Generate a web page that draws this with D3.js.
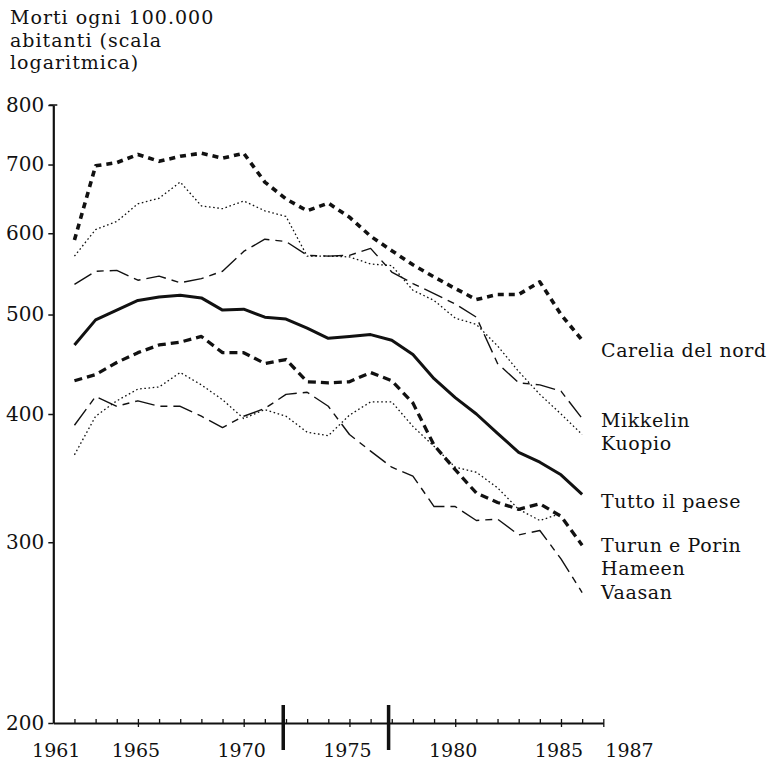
<!DOCTYPE html>
<html><head><meta charset="utf-8">
<script src="https://cdn.jsdelivr.net/npm/d3@7/dist/d3.min.js"></script>
<style>
body{margin:0;background:#fff}
text{font-family:"DejaVu Serif",serif;fill:#111}
</style>
</head><body>
<svg id="chart" width="769" height="765"></svg>
<script>
// ---------- data ----------
const years = d3.range(1962, 1987); // 1962 .. 1986
const carelia  = [591,698,703,716,705,713,718,710,718,673,648,631,642,622,596,577,559,544,530,517,523,523,538,500,472];
const mikkelin = [535,551,552,540,545,537,542,551,576,592,589,571,570,571,580,550,536,524,512,497,448,429,427,421,396];
const kuopio   = [570,605,616,641,649,673,638,634,645,631,623,570,570,569,560,558,528,516,496,489,466,440,418,400,382];
const tutto    = [467,494,505,516,520,522,519,505,506,497,495,485,474,476,478,472,457,433,415,400,383,367,359,349,334];
const turun    = [431,437,449,459,467,470,476,459,459,448,452,430,429,430,439,431,410,373,353,335,328,323,327,318,298];
const hameen   = [365,398,412,423,425,439,427,413,396,404,398,384,381,399,411,411,389,372,355,351,339,323,315,320,null];
const vaasan   = [390,416,407,412,407,407,398,388,398,405,418,420,407,382,368,355,348,325,325,315,316,305,308,289,268];

const seriesNames = ["Carelia del nord","Mikkelin","Kuopio","Tutto il paese","Turun e Porin","Hameen","Vaasan"];
const yTickValues = [200,300,400,500,600,700,800];
const xTickYears = d3.range(1962, 1988);
const xLabelYears = [1961,1965,1970,1975,1980,1985,1987];
const markerYears = [1971.87, 1976.85];
const titleLines = ["Morti ogni 100.000","abitanti (scala","logaritmica)"];

// ---------- layout ----------
const svg = d3.select("#chart");
const x = d3.scaleLinear().domain([1961,1987]).range([53.3,603.3]);
const y = d3.scaleLog().domain([200,800]).range([723,105]);

const styles = {
  "Carelia del nord": {w:3.6, dash:"6,5"},
  "Mikkelin":         {w:1.4, dash:"20,6,7,6"},
  "Kuopio":           {w:1.3, dash:"1.6,2.6"},
  "Tutto il paese":   {w:3.0, dash:null},
  "Turun e Porin":    {w:3.3, dash:"8,5"},
  "Hameen":           {w:1.3, dash:"1.6,2.6"},
  "Vaasan":           {w:1.4, dash:"20,6,7,6"}
};
const seriesValues = [carelia, mikkelin, kuopio, tutto, turun, hameen, vaasan];
const labelY = {"Carelia del nord":357,"Mikkelin":426.5,"Kuopio":449.5,"Tutto il paese":508,"Turun e Porin":551.5,"Hameen":574.5,"Vaasan":599};

// title
svg.append("g").selectAll("text").data(titleLines).join("text")
  .attr("x",10).attr("y",(d,i)=>24.2+i*22.6).attr("font-size",19)
  .attr("letter-spacing",1).text(d=>d);

// y axis
const yAxis = d3.axisLeft(y).tickValues(yTickValues).tickFormat(d3.format("d"))
  .tickSize(5).tickSizeOuter(0).tickPadding(4);
const gy = svg.append("g").attr("transform",`translate(${x(1961)},0)`).call(yAxis);
gy.select(".domain").attr("stroke","#111").attr("stroke-width",2.2);
gy.selectAll(".tick line").attr("stroke","#111").attr("stroke-width",1.5);
gy.selectAll(".tick text").attr("font-size",20).attr("font-family","DejaVu Serif").attr("fill","#111");
// small cap at top of y axis
svg.append("line").attr("x1",x(1961)-4).attr("x2",x(1961)+4)
  .attr("y1",y(800)).attr("y2",y(800)).attr("stroke","#111").attr("stroke-width",1.5);

// x axis: minor ticks (upward)
const xAxisMinor = d3.axisBottom(x).tickValues(xTickYears).tickFormat("").tickSize(-4).tickSizeOuter(0);
const gx = svg.append("g").attr("transform",`translate(0,${y(200)})`).call(xAxisMinor);
gx.select(".domain").attr("stroke","#111").attr("stroke-width",1.8);
gx.selectAll(".tick line").attr("stroke","#111").attr("stroke-width",1.3);
// labelled ticks crossing downward
const xAxisMajor = d3.axisBottom(x).tickValues([1965,1970,1975,1980,1985,1987]).tickFormat("").tickSize(4).tickSizeOuter(0);
const gx2 = svg.append("g").attr("transform",`translate(0,${y(200)})`).call(xAxisMajor);
gx2.select(".domain").remove();
gx2.selectAll(".tick line").attr("stroke","#111").attr("stroke-width",1.3);
// x labels
svg.append("g").selectAll("text").data(xLabelYears).join("text")
  .attr("x",d=> d===1987 ? x(d)+2 : x(d)+ (d===1961?3:-2))
  .attr("y",y(200)+33.5)
  .attr("text-anchor",d=> d===1987 ? "start" : "middle")
  .attr("font-size",19).text(d=>d);

// event markers
svg.append("g").selectAll("line").data(markerYears).join("line")
  .attr("x1",d=>x(d)).attr("x2",d=>x(d))
  .attr("y1",y(200)-18).attr("y2",y(200)+27)
  .attr("stroke","#111").attr("stroke-width",3.5);

// lines
const line = d3.line().defined(d=>d[1]!=null).x(d=>x(d[0])).y(d=>y(d[1]));
seriesNames.forEach((name,i)=>{
  const st = styles[name];
  const pts = years.map((yr,j)=>[yr, seriesValues[i][j]]);
  svg.append("path").datum(pts)
    .attr("d",line).attr("fill","none").attr("stroke","#111")
    .attr("stroke-width",st.w).attr("stroke-linejoin","round")
    .attr("stroke-dasharray",st.dash);
});

// series labels
svg.append("g").selectAll("text").data(seriesNames).join("text")
  .attr("x",601).attr("y",d=>labelY[d]).attr("font-size",19)
  .attr("letter-spacing",0.6).text(d=>d);
</script>
</body></html>
